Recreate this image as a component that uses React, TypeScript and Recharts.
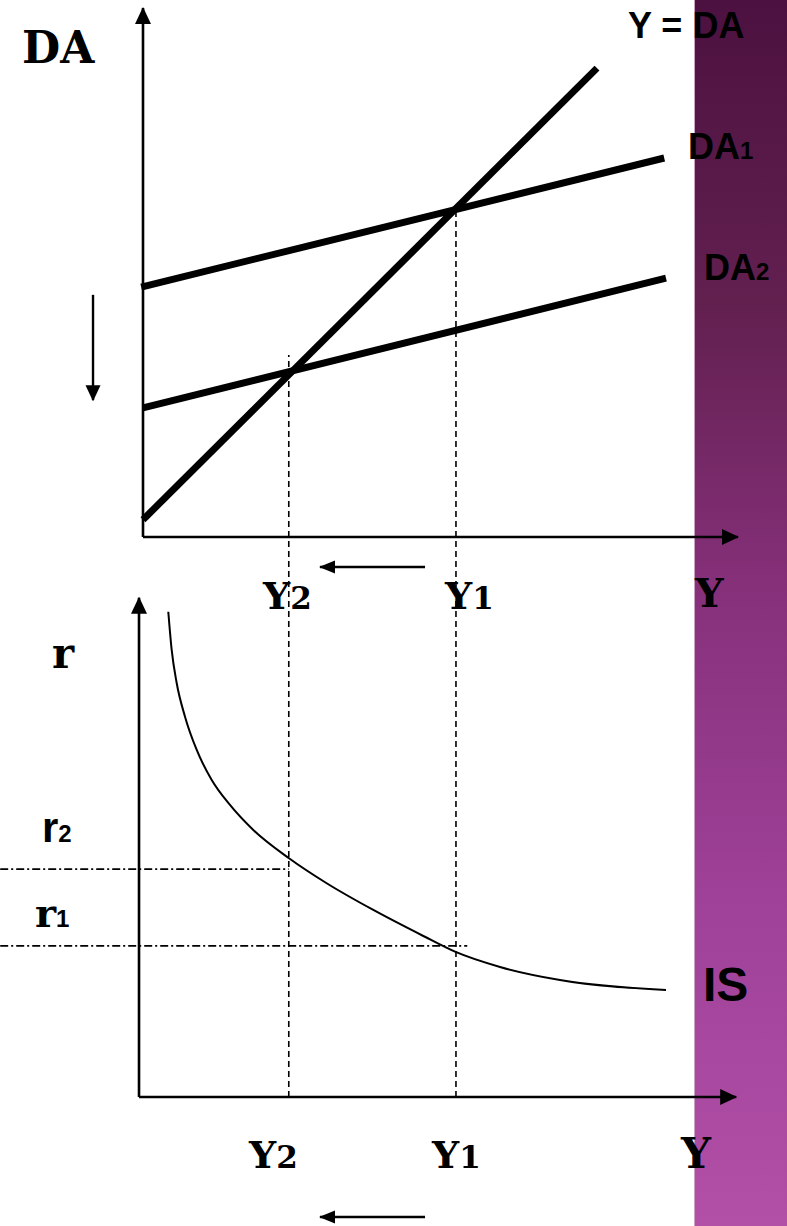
import React from 'react';
import { ComposedChart, Line, XAxis, YAxis } from 'recharts';

// ---------- layout (pixels) ----------
const W = 787;
const H = 1226;
const PX = 5.95; // pixels per unit on both axes
const TOP_OX = 143; // top panel origin x (px)
const TOP_OY = 537; // top panel origin y (px)
const BOT_OY = 1097; // bottom panel origin y (px)
const topToBottom = (v: number) => v + (BOT_OY - TOP_OY) / PX;

// ---------- data (units) ----------
const Y1 = 52.6;
const Y2 = 24.5;

// top panel: DA vs Y
const lineYeqDA = [{ x: 0, y: 2.9 }, { x: 76.3, y: 78.8 }];
const lineDA1 = [{ x: -0.3, y: 42.0 }, { x: 87.6, y: 63.7 }];
const lineDA2 = [{ x: 0, y: 21.7 }, { x: 87.9, y: 43.5 }];
const eqDA1 = 55.0; // DA at Y1
const eqDA2Top = 30.6; // top of the Y2 guide

// bottom panel: IS curve r vs Y
const isCurve = [
  { x: 4.25, y: 81.56 },
  { x: 4.82, y: 75.13 },
  { x: 5.66, y: 69.58 },
  { x: 7.06, y: 63.92 },
  { x: 9.03, y: 58.32 },
  { x: 11.55, y: 53.28 },
  { x: 14.62, y: 49.08 },
  { x: 18.54, y: 44.87 },
  { x: 24.54, y: 40.12 },
  { x: 30.87, y: 35.92 },
  { x: 38.71, y: 31.43 },
  { x: 47.11, y: 27.06 },
  { x: 52.44, y: 24.42 },
  { x: 60.0, y: 21.85 },
  { x: 70.08, y: 19.66 },
  { x: 87.9, y: 17.98 },
];
const R2 = 38.3;
const R1 = 25.4;
const r2Guide = [{ x: -24.0, y: R2 }, { x: Y2, y: R2 }];
const r1Guide = [{ x: -24.0, y: R1 }, { x: 54.5, y: R1 }];

// guides crossing both panels (bottom units)
const y1Guide = [{ x: Y1, y: 0 }, { x: Y1, y: topToBottom(eqDA1) }];
const y2Guide = [{ x: Y2, y: 0 }, { x: Y2, y: topToBottom(eqDA2Top) }];

// axes
const topYAxis = [{ x: 0, y: 0 }, { x: 0, y: 88.9, head: 'up' }];
const topXAxis = [{ x: 0, y: 0 }, { x: 100, y: 0, head: 'right' }];
const botYAxis = [{ x: -0.67, y: 0 }, { x: -0.67, y: 83.9, head: 'up' }];
const botXAxis = [{ x: -0.67, y: 0 }, { x: 99.7, y: 0, head: 'right' }];

// shift arrows
const downShift = [{ x: -8.4, y: 40.7 }, { x: -8.4, y: 23.0, head: 'down' }];
const topLeftShift = [{ x: 47.4, y: -5.04 }, { x: 29.75, y: -5.04, head: 'left' }];
const botLeftShift = [{ x: 47.4, y: -20.17 }, { x: 29.75, y: -20.17, head: 'left' }];

const xDomain: [number, number] = [-TOP_OX / PX, (W - TOP_OX) / PX];
const topDomain: [number, number] = [(TOP_OY - H) / PX, TOP_OY / PX];
const botDomain: [number, number] = [(BOT_OY - H) / PX, BOT_OY / PX];

const arrowDot = (len: number, half: number) => (props: any) => {
  const { cx, cy, payload, index } = props;
  if (!payload || !payload.head || cx == null || cy == null) return <g key={`n${index}`} />;
  let pts = '';
  switch (payload.head) {
    case 'up':
      pts = `${cx},${cy - 1} ${cx - half},${cy + len} ${cx + half},${cy + len}`;
      break;
    case 'down':
      pts = `${cx},${cy + 1} ${cx - half},${cy - len} ${cx + half},${cy - len}`;
      break;
    case 'left':
      pts = `${cx - 1},${cy} ${cx + len},${cy - half} ${cx + len},${cy + half}`;
      break;
    default:
      pts = `${cx + 1},${cy} ${cx - len},${cy - half} ${cx - len},${cy + half}`;
  }
  return <polygon key={`a${index}`} points={pts} fill="#000" />;
};

const noDot = () => <g />;

const SERIF = '"DejaVu Serif", serif';
const SANS = '"Liberation Sans", Arial, sans-serif';

export default function App() {
  const common = {
    type: 'linear' as const,
    dataKey: 'y',
    stroke: '#000',
    activeDot: false,
    isAnimationActive: false,
    legendType: 'none' as const,
  };
  return (
    <div style={{ position: 'absolute', left: 0, top: 0, width: W, height: H, background: '#fff', overflow: 'hidden' }}>
      <div
        style={{
          position: 'absolute',
          left: 694,
          top: 0,
          width: W - 694,
          height: H,
          background: 'linear-gradient(to bottom, #4c1140 0%, #62204f 25%, #86307a 48%, #a0429a 75%, #b24fa6 100%)',
          borderLeft: '1px solid #c9a3c3',
          boxSizing: 'border-box',
        }}
      />
      <div style={{ position: 'absolute', left: 0, top: 0 }}>
        <ComposedChart width={W} height={H} margin={{ top: 0, right: 0, bottom: 0, left: 0 }}>
          <XAxis type="number" dataKey="x" domain={xDomain} allowDataOverflow hide />
          <YAxis yAxisId="top" type="number" domain={topDomain} allowDataOverflow hide />
          <YAxis yAxisId="bot" type="number" domain={botDomain} allowDataOverflow hide />

          {/* guides */}
          <Line {...common} yAxisId="bot" data={y1Guide} strokeWidth={1.6} strokeDasharray="6 4" dot={noDot} />
          <Line {...common} yAxisId="bot" data={y2Guide} strokeWidth={1.6} strokeDasharray="6 4" dot={noDot} />
          <Line {...common} yAxisId="bot" data={r2Guide} strokeWidth={1.6} strokeDasharray="8 3 2 3" dot={noDot} />
          <Line {...common} yAxisId="bot" data={r1Guide} strokeWidth={1.6} strokeDasharray="8 3 2 3" dot={noDot} />

          {/* axes */}
          <Line {...common} yAxisId="top" data={topYAxis} strokeWidth={2.6} dot={arrowDot(16, 8)} />
          <Line {...common} yAxisId="top" data={topXAxis} strokeWidth={2.6} dot={arrowDot(16, 8)} />
          <Line {...common} yAxisId="bot" data={botYAxis} strokeWidth={2.6} dot={arrowDot(16, 8)} />
          <Line {...common} yAxisId="bot" data={botXAxis} strokeWidth={2.6} dot={arrowDot(16, 8)} />

          {/* curves */}
          <Line {...common} yAxisId="top" data={lineYeqDA} strokeWidth={7} dot={noDot} />
          <Line {...common} yAxisId="top" data={lineDA1} strokeWidth={7} dot={noDot} />
          <Line {...common} yAxisId="top" data={lineDA2} strokeWidth={7} dot={noDot} />
          <Line {...common} type="monotone" yAxisId="bot" data={isCurve} strokeWidth={2} dot={noDot} />

          {/* shift arrows */}
          <Line {...common} yAxisId="top" data={downShift} strokeWidth={2.4} dot={arrowDot(15, 7.5)} />
          <Line {...common} yAxisId="top" data={topLeftShift} strokeWidth={2.4} dot={arrowDot(15, 6.5)} />
          <Line {...common} yAxisId="bot" data={botLeftShift} strokeWidth={2.4} dot={arrowDot(15, 6.5)} />
        </ComposedChart>
      </div>
      <svg width={W} height={H} style={{ position: 'absolute', left: 0, top: 0, pointerEvents: 'none' }}>
        <g fill="#000" fontWeight="bold">
          <text x={22} y={63} fontFamily={SERIF} fontSize={44}>DA</text>
          <text x={628} y={38} fontFamily={SANS} fontSize={36}>Y = DA</text>
          <text x={688} y={159} fontFamily={SANS} fontSize={36}>DA<tspan fontSize={24}>1</tspan></text>
          <text x={704} y={280} fontFamily={SANS} fontSize={36}>DA<tspan fontSize={24}>2</tspan></text>

          <text x={263} y={609} fontFamily={SERIF} fontSize={38}>Y<tspan fontSize={31}>2</tspan></text>
          <text x={445} y={609} fontFamily={SERIF} fontSize={38}>Y<tspan fontSize={31}>1</tspan></text>
          <text x={695} y={607} fontFamily={SERIF} fontSize={40}>Y</text>

          <text x={52} y={668} fontFamily={SERIF} fontSize={42}>r</text>
          <text x={42} y={842} fontFamily={SANS} fontSize={42}>r<tspan fontSize={24}>2</tspan></text>
          <text x={35} y={927} fontFamily={SERIF} fontSize={40}>r<tspan fontFamily={SANS} fontSize={24}>1</tspan></text>
          <text x={703} y={1001} fontFamily={SANS} fontSize={48}>IS</text>

          <text x={249} y={1168} fontFamily={SERIF} fontSize={38}>Y<tspan fontSize={31}>2</tspan></text>
          <text x={432} y={1168} fontFamily={SERIF} fontSize={38}>Y<tspan fontSize={31}>1</tspan></text>
          <text x={681} y={1168} fontFamily={SERIF} fontSize={42}>Y</text>
        </g>
      </svg>
    </div>
  );
}
